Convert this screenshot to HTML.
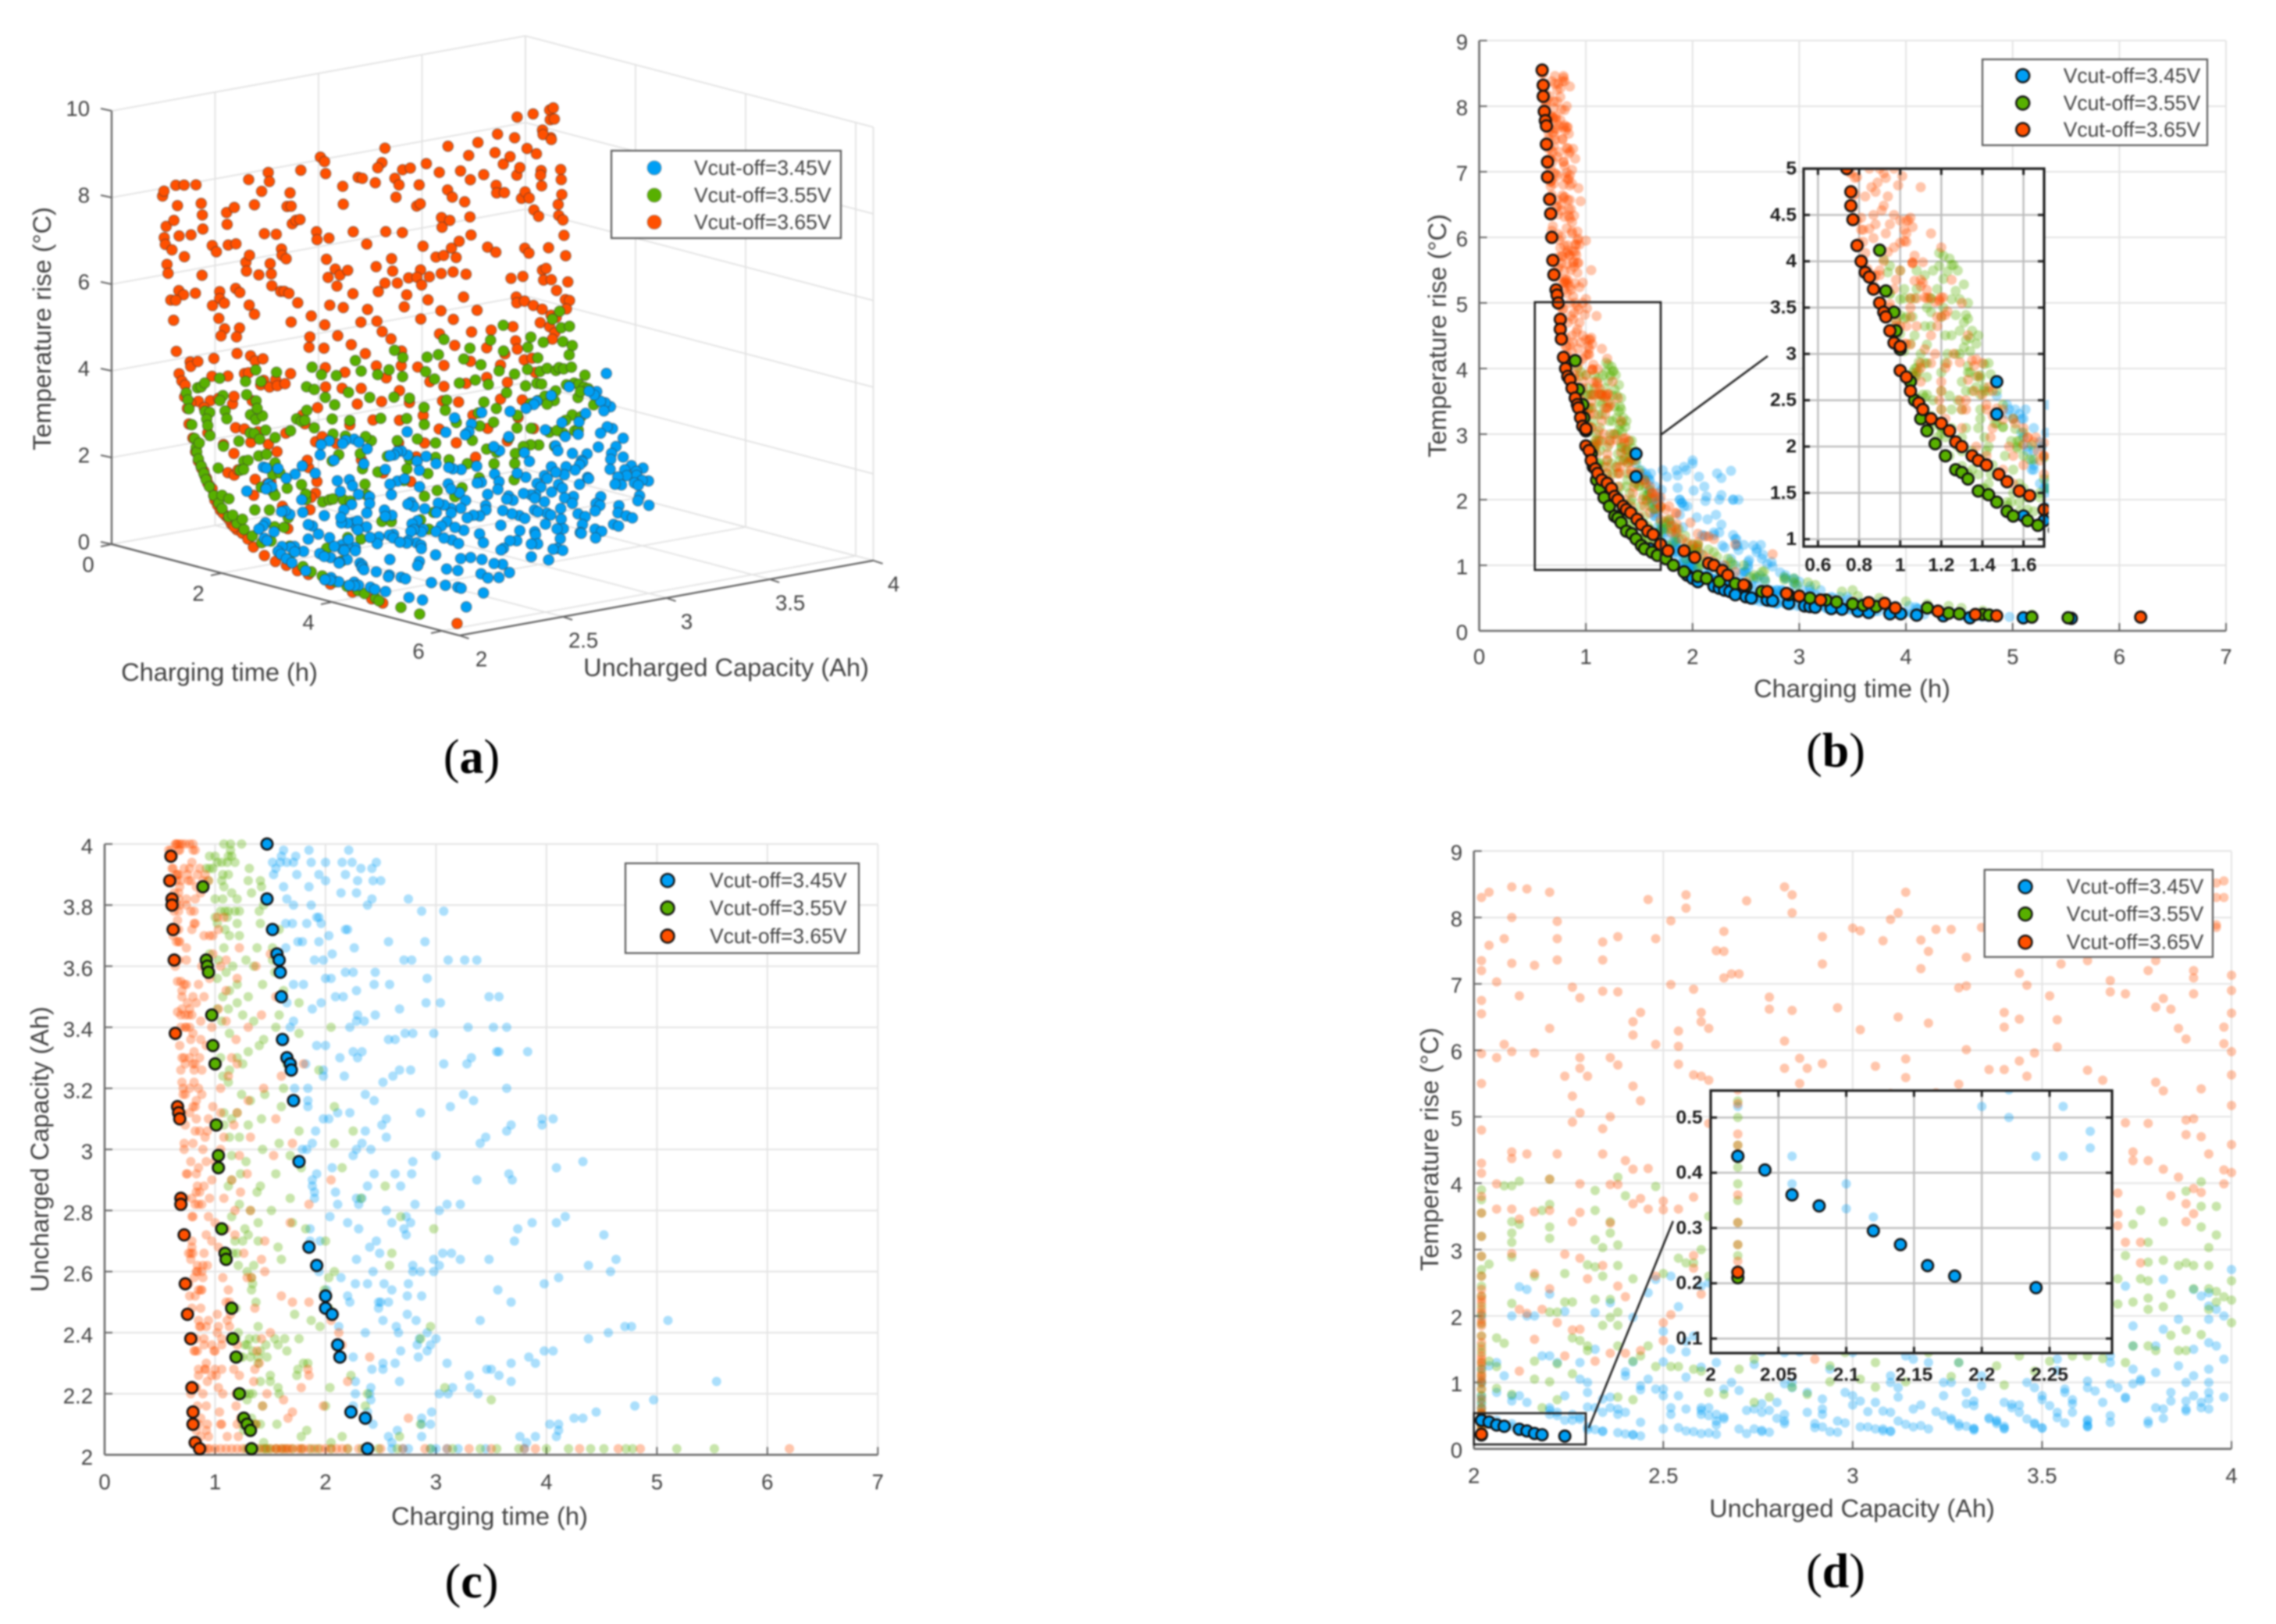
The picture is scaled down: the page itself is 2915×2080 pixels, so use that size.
<!DOCTYPE html>
<html lang="en">
<head>
<meta charset="utf-8">
<title>Charging optimisation scatter charts</title>
<style>
html,body{margin:0;padding:0;background:#fff;}
#figure{position:absolute;left:0;top:0;width:2915px;height:2080px;filter:blur(1px);}
text{font-family:"Liberation Sans",sans-serif;fill:#424242;}
.tick{font-size:27.5px;}
.title{font-size:32.6px;text-anchor:middle;}
.legend{font-size:26.5px;}
.inset-tick{font-size:24.5px;font-weight:bold;fill:#1c1c1c;}
.caption{font-family:"Liberation Serif",serif;font-size:62px;text-anchor:middle;fill:#000;}
</style>
</head>
<body>
<svg id="figure" xmlns="http://www.w3.org/2000/svg" width="2915" height="2080" viewBox="0 0 2915 2080">
<defs>
<clipPath id="clip-b-inset"><rect x="2310" y="216" width="314" height="484"/></clipPath>
<clipPath id="clip-d-inset"><rect x="2191" y="1397" width="514" height="336"/></clipPath>
</defs>
<rect width="2915" height="2080" fill="#fff"/>
<g id="panel-a"></g>
<g id="panel-b"></g>
<g id="panel-c"></g>
<g id="panel-d"></g>
<g>
<text class="title" x="281" y="872">Charging time (h)</text>
<text class="title" x="930" y="866">Uncharged Capacity (Ah)</text>
<text class="title" transform="translate(65,421) rotate(-90)">Temperature rise (°C)</text>
<text class="title" x="2372" y="893">Charging time (h)</text>
<text class="title" transform="translate(1852,430) rotate(-90)">Temperature rise (°C)</text>
<text class="title" x="627" y="1953">Charging time (h)</text>
<text class="title" transform="translate(62,1472) rotate(-90)">Uncharged Capacity (Ah)</text>
<text class="title" x="2372" y="1943">Uncharged Capacity (Ah)</text>
<text class="title" transform="translate(1842,1472) rotate(-90)">Temperature rise (°C)</text>
</g>
<g>
<text class="caption" x="604" y="990">(<tspan font-weight="bold" style="fill:#000">a</tspan>)</text>
<text class="caption" x="2351" y="982">(<tspan font-weight="bold" style="fill:#000">b</tspan>)</text>
<text class="caption" x="604" y="2046">(<tspan font-weight="bold" style="fill:#000">c</tspan>)</text>
<text class="caption" x="2351" y="2033">(<tspan font-weight="bold" style="fill:#000">d</tspan>)</text>
</g>
</svg>
<script>
// Tick labels
const timeTicks=[0,1,2,3,4,5,6,7];
const tempTicks=[0,1,2,3,4,5,6,7,8,9];
const capTicksC=[2,2.2,2.4,2.6,2.8,3,3.2,3.4,3.6,3.8,4];
const capTicksD=[2,2.5,3,3.5,4];
const aTimeTicks=[0,2,4,6];
const aCapTicks=[2,2.5,3,3.5,4];
const aTempTicks=[0,2,4,6,8,10];
const bInsetTimeTicks=[0.6,0.8,1,1.2,1.4,1.6];
const bInsetTempTicks=[1,1.5,2,2.5,3,3.5,4,4.5,5];
const dInsetCapTicks=[2,2.05,2.1,2.15,2.2,2.25];
const dInsetTempTicks=[0.1,0.2,0.3,0.4,0.5];
const seriesLabels=["Vcut-off=3.45V","Vcut-off=3.55V","Vcut-off=3.65V"];

// Measured points: [charging time h, uncharged capacity Ah, temperature rise C]
const blueRuns=[[1.47,4,2.7],[1.62,3.98,2],[1.85,3.98,1.35],[2.21,3.98,.78],[1.6,3.96,2.1],[1.73,3.96,1.55],[1.52,3.94,2.35],[1.59,3.94,2.15],[1.65,3.94,1.95],[1.71,3.94,1.6],[1.87,3.94,1.2],[2,3.94,1],[2.15,3.94,.85],[2.24,3.94,.75],[2.46,3.94,.6],[1.55,3.92,2.3],[2.32,3.92,.7],[2.42,3.92,.62],[1.53,3.9,2.4],[1.74,3.9,1.5],[1.94,3.9,1.1],[2.18,3.9,.8],[2,3.88,1],[2.29,3.88,.72],[2.43,3.88,.6],[2.5,3.88,.57],[1.62,3.86,1.95],[1.85,3.86,1.25],[2.14,3.84,.85],[2.28,3.84,.72],[1.47,3.82,2.55],[1.65,3.82,1.8],[2.42,3.82,.6],[2.75,3.82,.46],[1.71,3.8,1.55],[1.87,3.8,1.15],[2.38,3.8,.62],[2.87,3.78,.42],[3.07,3.78,.38],[1.92,3.76,1.05],[1.94,3.76,1.02],[1.64,3.74,1.85],[1.7,3.74,1.55],[1.83,3.74,1.2],[1.96,3.74,.98],[1.52,3.72,2.45],[2.18,3.72,.78],[2.2,3.72,.76],[2.03,3.7,.92],[1.75,3.68,1.4],[1.79,3.68,1.3],[1.94,3.68,.98],[2.57,3.68,.5],[2.9,3.68,.4],[2.26,3.66,.7],[1.64,3.66,1.75],[2.06,3.64,.87],[1.56,3.64,2.4],[1.58,3.62,2.35],[1.9,3.62,1.02],[1.98,3.62,.92],[2.71,3.62,.44],[2.78,3.62,.42],[3.11,3.62,.36],[3.26,3.62,.34],[3.37,3.62,.33],[1.59,3.58,2.3],[2.18,3.58,.74],[2.25,3.58,.68],[2.45,3.58,.55],[2,3.56,.9],[2.05,3.56,.85],[2.92,3.56,.39],[1.71,3.54,1.35],[1.8,3.54,1.18],[2.44,3.54,.55],[2.58,3.54,.47],[2.28,3.52,.65],[1.6,3.5,2.3],[2.09,3.5,.8],[2.16,3.5,.74],[3.48,3.5,.32],[3.57,3.5,.31],[1.65,3.48,1.75],[1.96,3.48,.92],[2.91,3.48,.39],[3.04,3.48,.37],[1.88,3.46,1],[2.67,3.46,.45],[2.29,3.44,.66],[2.45,3.44,.55],[1.71,3.42,1.5],[2.28,3.42,.67],[2.35,3.42,.62],[1.68,3.4,1.6],[2.22,3.4,.7],[3.29,3.4,.34],[3.52,3.4,.31],[3.64,3.4,.3],[2.72,3.38,.43],[2.79,3.38,.41],[2.98,3.38,.38],[1.61,3.36,2.4],[2.57,3.36,.47],[2.63,3.36,.45],[1.92,3.34,1.1],[2,3.34,.95],[2.25,3.32,.72],[2.33,3.32,.65],[3.55,3.32,.31],[3.57,3.32,.3],[3.83,3.32,.28],[1.65,3.3,2.2],[2.13,3.3,.85],[2.29,3.3,.68],[3.32,3.3,.34],[1.68,3.28,2.05],[1.82,3.28,1.3],[3.07,3.28,.38],[3.28,3.28,.34],[1.69,3.26,2],[1.98,3.26,1],[2.67,3.26,.46],[2.77,3.26,.43],[1.98,3.24,1],[2.17,3.24,.8],[2.61,3.24,.5],[2.52,3.22,.56],[1.84,3.2,1.3],[3.64,3.2,.3],[2.36,3.18,.66],[3.25,3.18,.35],[1.71,3.16,2.15],[1.84,3.16,1.35],[2.44,3.16,.6],[3.34,3.16,.33],[1.84,3.14,1.4],[3.13,3.14,.37],[2.11,3.12,.92],[2.22,3.12,.78],[2.86,3.12,.42],[1.98,3.1,1.1],[2.03,3.1,1],[2.55,3.1,.55],[3.96,3.1,.27],[4.06,3.1,.26],[2.51,3.08,.57],[3.68,3.08,.3],[3.96,3.08,.27],[3.64,3.06,.3],[2.36,3.06,.7],[2.55,3.04,.56],[3.45,3.04,.33],[2.33,3.02,.72],[3.4,3.02,.33],[1.79,3,1.65],[1.83,3,1.45],[2.41,3,.66],[2.28,3,.8],[2.25,2.98,.85],[3,2.98,.39],[1.76,2.96,2.35],[2.79,2.96,.42],[4.33,2.96,.25],[4.09,2.94,.26],[2.06,2.94,1.2],[1.92,2.92,1.9],[2.44,2.92,.75],[2.63,2.92,.6],[2.78,2.92,.52],[3.66,2.92,.33],[1.88,2.9,2],[3.37,2.9,.38],[3.69,2.9,.32],[1.88,2.88,2],[2.38,2.88,.85],[2.68,2.88,.55],[1.9,2.86,1.95],[1.9,2.84,1.95],[2.28,2.84,1],[2.33,2.84,.92],[2.11,2.82,1.45],[2.3,2.82,.98],[2.81,2.82,.52],[3.1,2.82,.42],[3.22,2.82,.38],[2.55,2.8,.7],[3.03,2.8,.46],[2.73,2.78,.58],[4.17,2.78,.25],[2.6,2.76,.68],[2.77,2.76,.55],[3.87,2.76,.28],[4.09,2.76,.26],[2.71,2.74,.6],[3.74,2.74,.3],[2.73,2.72,.58],[4.52,2.72,.23],[1.95,2.7,1.9],[2.46,2.7,.88],[3.71,2.7,.3],[1.85,2.68,2.45],[2.4,2.68,1],[2.49,2.66,.9],[3.06,2.66,.48],[3.14,2.66,.45],[2.28,2.64,1.3],[2.98,2.64,.52],[3.22,2.64,.42],[3.48,2.64,.36],[4.63,2.64,.22],[1.92,2.62,2.5],[4.38,2.62,.24],[3.03,2.62,.5],[2.79,2.62,.62],[2.79,2.6,.62],[2.86,2.6,.58],[2.98,2.6,.52],[4.58,2.6,.23],[2.14,2.58,1.7],[4.11,2.58,.26],[2.75,2.56,.6],[3.98,2.56,.27],[2.6,2.54,.8],[3.56,2.54,.32],[2,2.52,2.6],[2.2,2.52,1.5],[2.87,2.52,.52],[2.74,2.52,.62],[2.5,2.5,.9],[2.57,2.5,.8],[3.68,2.5,.3],[2,2.48,2.55],[2.48,2.48,.9],[2.06,2.46,2.35],[2.52,2.44,.95],[3.4,2.44,.4],[5.1,2.44,.195],[4.71,2.42,.215],[4.77,2.42,.21],[2.36,2.4,1.1],[2.92,2.4,.55],[4.56,2.4,.225],[2.85,2.38,.6],[3,2.38,.52],[4.38,2.38,.245],[2.11,2.36,2.2],[2.83,2.36,.62],[2.68,2.34,.75],[2.92,2.34,.55],[3.98,2.34,.27],[4.06,2.34,.26],[2.13,2.32,2.05],[2.25,2.32,1.5],[2.84,2.32,.62],[3.84,2.32,.29],[2.52,2.3,1],[2.63,2.3,.85],[3.68,2.3,.33],[3.9,2.3,.29],[2.42,2.28,1.3],[2.52,2.28,1.05],[3.46,2.28,.475],[3.5,2.28,.445],[3.3,2.26,.52],[3.57,2.26,.43],[2.67,2.24,.8],[3.68,2.24,.43],[5.54,2.24,.192],[2.41,2.22,1.3],[3.15,2.22,.55],[3.31,2.22,.5],[2.4,2.2,1.4],[3.03,2.2,.62],[3.11,2.2,.58],[3.38,2.2,.52],[2.41,2.18,1.4],[4.97,2.18,.213],[4.8,2.16,.232],[2.25,2.16,2],[2.23,2.14,2.4],[2.96,2.14,.7],[4.45,2.14,.27],[2.36,2.12,2.44],[2.87,2.12,.8],[4.25,2.12,.32],[4.33,2.12,.295],[2.87,2.1,.8],[2.95,2.1,.72],[4.03,2.1,.38],[4.11,2.1,.335],[2.65,2.08,1.1],[4.11,2.08,.34],[2.57,2.06,1.3],[2.87,2.06,.85],[3.76,2.06,.43],[3.9,2.06,.38],[4.09,2.06,.36],[2.6,2.04,1.25],[3.82,2.04,.405],[2.38,2.02,2],[2.6,2.02,1.2],[2.7,2.02,1.02],[2.75,2.02,.98],[2.95,2.02,.8],[3,2.02,.75],[3.1,2.02,.68],[3.2,2.02,.62],[3.45,2.02,.52],[3.8,2.02,.43],[1.72,3.2,2.45],[1.86,2.7,2.37],[1.94,2.6,2.45],[1.86,2.74,2.18],[2.01,2.54,2.14],[2.12,2.42,1.98],[2.27,2.2,2.33],[2.27,2.24,2.07],[2.38,2.14,2],[2.43,2.1,2],[2.22,2.5,1.77],[2.27,2.56,1.62],[2.04,2.78,1.73],[1.88,3.02,1.77],[1.91,3.06,1.58],[2.09,2.86,1.46],[2.2,2.76,1.46],[2.38,2.56,1.46],[2.48,2.5,1.31],[2.64,2.42,1.31],[2.66,2.4,1.16],[2.43,2.6,1.23],[2.53,2.56,1.08],[2.3,2.74,1.27],[2.74,2.46,1.05],[2.82,2.44,.89],[2.95,2.36,.78],[3.1,2.3,.63]];

const greenRuns=[[1.28,2.02,3.9],[1.31,2.02,3.75],[1.33,2.02,3.55],[1.38,2.02,3.2],[1.43,2.02,2.9],[1.46,2.02,2.7],[1.47,2.02,2.6],[1.5,2.02,2.45],[1.55,2.02,2.3],[1.6,2.02,2.15],[1.64,2.02,2.02],[1.7,2.02,1.88],[1.78,2.02,1.7],[1.87,2.02,1.55],[1.93,2.02,1.45],[2.05,2.02,1.3],[2.2,2.02,1.2],[2.33,2.02,1.1],[2.48,2.02,1],[2.65,2.02,.9],[2.95,2.02,.8],[3.15,2.02,.7],[3.4,2.02,.6],[3.55,2.02,.53],[3.75,2.02,.5],[4,2.02,.45],[4.2,2.02,.41],[4.4,2.02,.38],[4.52,2.02,.35],[4.72,2.02,.31],[4.78,2.02,.27],[5.18,2.02,.25],[5.52,2.02,.21],[1.26,2.08,3.96],[1.25,2.1,3.96],[1.24,2.12,4.03],[1.21,2.2,4.06],[1.27,2.2,3.68],[1.29,2.18,3.59],[1.31,2.2,3.34],[1.34,2.2,3.17],[1.44,2.04,2.78],[1.32,2.1,3.42],[1.33,2.12,3.38],[1.35,2.1,3.25],[1.37,2.1,3.11],[1.41,2.1,2.89],[1.23,2.32,3.89],[1.25,2.32,3.59],[1.19,2.38,4.09],[1.21,2.4,3.81],[1.27,2.36,3.42],[1.32,2.32,3.15],[1.34,2.34,3.03],[1.31,2.38,3.07],[1.29,2.36,3.25],[1.39,2.3,2.77],[1.39,2.32,2.74],[1.41,2.34,2.6],[1.37,2.38,2.76],[1.19,2.48,3.95],[1.21,2.62,3.5],[1.33,2.54,2.87],[1.34,2.56,2.8],[1.37,2.5,2.64],[1.33,2.58,2.8],[1.41,2.24,2.64],[1.43,2.16,2.6],[1.56,2.1,2.19],[1.5,2.24,2.21],[1.58,2.2,2.06],[1.5,2.26,2.21],[1.57,2.22,2.06],[1.47,2.32,2.25],[1.46,2.36,2.25],[1.39,2.42,2.56],[1.57,2.36,1.98],[1.54,2.38,2.06],[1.65,2.34,1.86],[1.63,2.38,1.86],[1.78,2.06,1.67],[1.83,2.08,1.59],[2.05,2.04,1.32],[2.15,2.06,1.24],[2,2.16,1.32],[2.04,2.22,1.28],[2.36,2.16,1.05],[2.67,2.06,.91],[2.86,2.1,.82],[3.5,2.18,.62],[3.08,2.22,.74],[2.38,2.2,1.01],[2.23,2.26,1.13],[1.8,2.3,1.55],[1.74,2.26,1.67],[1.75,2.28,1.63],[1.84,2.3,1.48],[1.76,2.38,1.55],[1.95,2.42,1.32],[1.87,2.44,1.4],[1.72,2.46,1.55],[2.03,2.48,1.24],[2,2.52,1.24],[1.99,2.54,1.24],[2.03,2.58,1.2],[2.08,2.6,1.17],[2.86,2.38,.78],[2.95,2.42,.74],[2.58,2.62,.85],[2.6,2.66,.82],[2,2.7,1.2],[2.98,2.74,.7],[2.68,2.78,.78],[2.32,2.84,.93],[2.54,2.88,.82],[2.15,2.94,1.01],[2.08,3.02,1.05],[2.25,3.06,.93],[2.08,3.14,1.01],[1.94,3.26,1.09],[1.22,3.7,2.18],[1.2,3.74,2.21],[1.13,3.7,2.56],[1.09,3.72,2.91],[1.02,3.74,3.38],[1,3.76,3.59],[1.05,3.78,3.11],[1.09,3.78,2.81],[1.11,3.76,2.56],[1.12,3.78,2.53],[1.18,3.78,2.27],[1,3.82,3.42],[1.07,3.82,2.84],[1.08,3.86,2.76],[1.06,3.88,2.8],[1.15,3.84,2.33],[1.2,3.82,2.14],[1.22,3.78,2.1],[.94,3.88,3.88],[.92,3.92,4.02],[.95,3.92,3.65],[.95,3.96,3.65],[.98,3.92,3.34],[1,3.96,3.22],[1.02,3.94,3.03],[1.07,3.9,2.76],[1.06,3.94,2.76],[1.12,3.9,2.41],[1.11,3.94,2.41],[1.12,3.96,2.37],[1.14,3.98,2.29],[1.08,4,2.53],[1.14,4,2.24],[1.24,4,1.9],[1.18,3.94,2.1],[1.15,3.96,2.21],[1.3,3.88,1.79],[1.33,3.84,1.71],[1.44,3.8,1.48],[1.42,3.86,1.48],[1.31,3.92,1.72],[1.41,3.88,1.48],[1.41,3.74,1.55],[1.4,3.78,1.55],[1.58,3.72,1.3],[1.52,3.66,1.36],[1.52,3.62,1.4],[1.54,3.58,1.4],[1.62,3.52,1.32],[1.58,3.44,1.4],[1.76,3.48,1.17],[2.05,3.4,.96],[1.16,2.66,3.9],[1.25,2.7,3.2],[1.3,2.72,2.7],[1.39,2.76,2.3],[1.51,2.8,1.9],[1.68,2.84,1.5],[1.15,2.9,3.6],[1.23,2.92,3],[1.28,2.96,2.5],[1.43,3,2],[1.58,3.02,1.6],[1.76,3.06,1.3],[1.08,3.08,3.9],[1.15,3.1,3.3],[1.2,3.12,2.8],[1.32,3.16,2.2],[1.45,3.18,1.8],[1.62,3.2,1.45],[1.07,3.24,3.6],[1.13,3.26,3.1],[1.2,3.3,2.6],[1.3,3.32,2.1],[1.44,3.36,1.7],[1.76,3.38,1.25],[1.06,3.42,3.4],[1.12,3.46,2.9],[1.2,3.48,2.4],[1.3,3.5,1.95],[1.43,3.54,1.6],[1.02,3.56,3.7],[1.1,3.58,3],[1.16,3.6,2.5],[1.28,3.62,2],[1.38,3.66,1.7],[.95,3.64,3.95],[1.57,2.68,2],[1.82,2.74,1.35],[1.41,2.88,2.1],[1.78,2.94,1.25],[1.13,3.04,3.5],[1.6,3.14,1.55],[1.65,3.28,1.3],[1,3.34,3.9],[1.25,3.44,2.2],[1.13,3.52,2.75],[1.15,2.78,3.6],[1.35,2.62,2.6],[1.6,2.64,1.9],[1.29,2.6,3],[1.18,2.7,3.7],[1.27,2.74,3],[1.32,2.8,2.6],[1.38,2.86,2.2],[1.55,2.92,1.75],[1.68,2.98,1.45],[1.22,3.04,2.9],[1.3,3.08,2.4],[1.42,3.1,1.95],[1.12,3.22,3.3],[1.25,3.28,2.4],[1.4,3.34,1.85],[1.55,3.4,1.5],[1.02,3.46,3.6],[1.07,3.5,3.2],[1.2,3.54,2.2],[1.35,3.6,1.75],[1.03,3.62,3.4],[1.08,3.66,2.85],[1.2,2.66,3.4],[1.39,2.7,2.4],[1.7,2.76,1.65],[1.22,2.82,3.2],[1.12,2.88,3.85],[1.15,2.98,3.45],[1.08,3.12,3.7],[1.24,3.18,2.55],[1.05,3.3,3.6],[1.13,3.38,2.9],[1.35,3.42,1.95]];

const orangeRuns=[[.85,2.02,8.3],[.88,2.02,7.35],[.9,2.02,7.2],[.93,2.02,6.75],[.95,2.02,6.55],[1,2.02,5.95],[1.05,2.02,5.5],[1.1,2.02,4.8],[1.15,2.02,4.3],[1.2,2.02,4.15],[1.25,2.02,3.8],[1.3,2.02,3.55],[1.33,2.02,3.2],[1.4,2.02,2.9],[1.45,2.02,2.6],[1.5,2.02,2.4],[1.55,2.02,2.3],[1.6,2.02,2.2],[1.65,2.02,2.05],[1.7,2.02,1.9],[1.75,2.02,1.85],[1.8,2.02,1.6],[1.85,2.02,1.5],[1.9,2.02,1.4],[2,2.02,1.3],[2.1,2.02,1.15],[2.2,2.02,1.05],[2.3,2.02,1],[2.4,2.02,.9],[2.5,2.02,.75],[2.7,2.02,.62],[2.9,2.02,.55],[3.1,2.02,.525],[3.3,2.02,.47],[3.5,2.02,.45],[3.8,2.02,.43],[3.9,2.02,.36],[4.3,2.02,.31],[4.65,2.02,.27],[4.85,2.02,.24],[6.2,2.02,.22],[1.56,2.02,2.25],[1.62,2.02,2.1],[1.67,2.02,1.95],[1.78,2.02,1.7],[1.95,2.02,1.35],[2.05,2.02,1.25],[2.15,2.02,1.1],[.8,2.04,8.38],[.79,2.1,8.46],[.79,2.14,8.43],[.78,2.2,8.38],[.76,2.46,8.27],[.74,2.56,8.34],[.76,2.56,8.14],[.73,2.72,8.25],[.71,2.82,8.46],[.71,2.84,8.34],[.73,2.84,8.07],[.68,3.14,8.38],[.7,3.12,8.07],[.7,3.1,7.97],[.72,3,7.84],[.72,3.02,7.8],[.7,3.22,7.82],[.69,3.26,7.82],[.71,3.18,7.66],[.73,3.08,7.65],[.71,3.2,7.49],[.7,3.3,7.4],[.59,3.96,8.52],[.6,3.96,8.3],[.61,3.96,7.89],[.6,3.8,8.5],[.59,3.88,8.5],[.58,3.98,8.55],[.6,3.98,8.3],[.61,3.92,8.1],[.62,3.92,8],[.62,3.96,7.85],[.63,3.78,8.05],[.65,3.68,7.8],[.66,3.55,7.85],[.65,3.88,7.6],[.66,3.9,7.2],[.67,3.9,6.85],[.67,3.78,7.2],[.69,3.55,7.3],[.69,3.4,7.6],[.68,3.34,7.85],[.7,3.5,7.55],[.65,3.72,7.5],[.63,3.84,7.75],[.62,3.7,8.2],[.64,3.6,8.1],[.66,3.45,8.15],[.67,3.62,7.35],[.65,3.8,7.35],[.66,3.75,7.65],[.82,2.1,8],[.8,2.22,7.94],[.84,2.04,7.58],[.83,2.08,7.68],[.82,2.22,7.68],[.81,2.34,7.63],[.8,2.38,7.71],[.79,2.48,7.68],[.77,2.52,7.95],[.76,2.66,7.79],[.78,2.64,7.5],[.78,2.66,7.49],[.74,2.92,7.71],[.75,2.92,7.3],[.84,2.16,7.28],[.85,2.1,7.31],[.83,2.22,7.36],[.82,2.34,7.36],[.87,2.06,7.03],[.87,2.12,6.82],[.85,2.26,6.95],[.85,2.28,6.79],[.84,2.34,6.89],[.83,2.38,6.88],[.82,2.52,6.99],[.81,2.58,6.92],[.8,2.66,7.09],[.79,2.68,7.15],[.79,2.7,7.15],[.79,2.78,6.8],[.8,2.78,6.62],[.79,2.84,6.6],[.78,2.96,6.64],[.73,3.18,7.23],[.73,3.28,6.94],[.72,3.3,6.97],[.69,3.44,7.16],[.7,3.46,6.98],[.7,3.52,6.82],[.67,3.68,7.05],[.68,3.68,6.88],[.67,3.72,6.85],[.68,3.8,6.65],[.67,3.82,6.78],[.67,3.84,6.62],[.68,3.86,6.33],[.69,3.88,6.17],[.65,3.9,7.09],[.64,4,7.13],[.65,4,6.9],[.66,4,6.56],[.67,3.98,6.35],[.68,3.98,6.1],[.68,4,5.98],[.7,4,5.63],[.72,3.92,5.42],[.73,4,5.17],[.89,2.2,6.33],[.92,2.08,6.09],[.93,2.1,5.98],[.94,2.06,5.89],[.92,2.16,5.96],[.91,2.28,5.89],[.9,2.36,5.89],[.9,2.38,5.78],[.91,2.28,5.73],[.92,2.3,5.61],[.93,2.24,5.61],[.86,2.42,6.43],[.85,2.44,6.57],[.87,2.42,6.23],[.87,2.48,6.09],[.85,2.54,6.29],[.87,2.54,6.06],[.88,2.54,5.79],[.83,2.6,6.57],[.84,2.6,6.43],[.84,2.62,6.33],[.89,2.58,5.63],[.88,2.6,5.61],[.89,2.62,5.55],[.92,2.42,5.46],[.94,2.44,5.24],[.97,2.26,5.31],[1,2.28,5.06],[1.01,2.26,4.92],[.97,2.36,5],[.99,2.34,4.82],[.82,2.82,6.14],[.85,2.82,5.73],[.83,2.86,5.88],[.84,2.88,5.73],[.86,2.86,5.5],[.83,2.92,5.8],[.8,3.02,6.31],[.82,3.06,5.76],[.77,3.12,6.5],[.8,3.14,5.87],[.82,3.14,5.59],[.77,3.2,6.41],[.77,3.3,6.01],[.8,3.28,5.49],[.78,3.36,5.71],[.77,3.4,5.71],[.73,3.4,6.57],[.74,3.4,6.35],[.73,3.44,6.47],[.76,3.44,5.84],[.77,3.46,5.61],[.75,3.48,5.96],[.72,3.54,6.46],[.74,3.54,6.05],[.74,3.62,5.7],[.74,3.66,5.55],[.79,3.72,4.91],[.78,3.78,4.9],[.74,3.8,5.52],[.74,3.82,5.39],[.76,3.88,4.95],[.75,3.9,4.97],[.78,3.88,4.73],[.77,3.92,4.7],[.79,3.94,4.44],[.77,4,4.58],[.8,3.98,4.2],[.8,4,4.16],[.82,3.98,3.99],[1.11,2.06,3.99],[1.05,2.1,4.47],[1.06,2.1,4.37],[1.04,2.14,4.44],[1.03,2.22,4.44],[1.07,2.2,4.06],[1.06,2.28,3.99],[1,2.34,4.44],[1.06,2.36,3.98],[1.06,2.38,3.98],[1.02,2.4,4.34],[1.03,2.42,4.21],[1.02,2.46,4.22],[1.11,2.44,3.77],[1.13,2.42,3.69],[1.14,2.46,3.61],[1.1,2.5,3.73],[1.13,2.5,3.6],[1.12,2.54,3.61],[1.07,2.58,3.79],[1.2,2.36,3.4],[1.22,2.26,3.42],[1.17,2.28,3.56],[1.19,2.16,3.57],[1.2,2.1,3.61],[1.19,2.2,3.59],[1.21,2.06,3.61],[1.23,2.12,3.46],[1.37,2.1,2.94],[1.43,2.16,2.64],[1.35,2.24,2.93],[1.36,2.28,2.87],[1.47,2.2,2.41],[1.78,2.22,1.9],[1.66,2.12,2.1],[1.7,2.14,2.04],[1.38,2.34,2.76],[1.4,2.3,2.56],[1.42,2.38,2.45],[1.5,2.4,2.29],[1.36,2.48,2.6],[1.85,2.5,1.63],[2.05,2.44,1.48],[1.7,2.5,1.9],[1.6,2.52,2.02],[1.29,2.58,2.91],[1.33,2.58,2.72],[1.45,2.6,2.33],[2.2,2.24,1.4],[1.62,2.18,2.1],[1.98,2.16,1.65],[2.75,2.12,1.17],[1.85,2.26,1.79],[1.84,2.28,1.8],[2.4,2.32,1.32],[2.15,2.36,1.44],[2.12,2.4,1.44],[.95,3.7,3.54],[.98,3.7,3.36],[1.03,3.72,3.11],[1.02,3.76,3.11],[1.08,3.76,2.8],[.9,3.7,3.85],[.81,3.74,4.47],[.82,3.74,4.34],[.81,3.78,4.34],[.82,3.82,4.21],[.87,3.84,3.81],[.83,3.86,4.09],[.89,3.88,3.69],[.84,3.9,3.92],[.91,3.9,3.54],[.94,3.88,3.42],[.86,3.92,3.86],[.9,2.66,5.3],[.92,2.72,4.95],[.94,2.78,4.7],[.95,2.84,4.4],[.97,2.9,4.15],[1,2.96,3.9],[1.05,3,3.6],[1.08,3.04,3.3],[1.17,3.08,3],[1.2,3.12,2.7],[1.3,3.16,2.4],[1.44,3.2,2.1],[1.6,3.24,1.8],[1.8,3.28,1.5],[1.03,2.68,4.3],[1.1,2.74,3.8],[1.18,2.8,3.3],[1.23,2.86,2.9],[1.29,2.92,2.5],[1.53,2.98,2],[1.7,3.02,1.7],[.86,3.06,5.2],[.83,3.1,5.35],[.83,3.16,5.3],[.81,3.22,5.36],[.81,3.26,5.34],[.81,3.32,5.3],[.8,3.38,5.32],[.79,3.44,5.3],[.8,3.5,5.2],[.88,3.18,4.75],[.88,3.26,4.4],[.92,3.34,4],[.97,3.4,3.7],[1.03,3.46,3.3],[1.1,3.52,2.9],[1.2,3.56,2.4],[1.37,3.6,2],[1.5,3.64,1.75],[.86,3.3,4.8],[.87,3.36,4.5],[.87,3.42,4.25],[.9,3.5,3.9],[.95,3.56,3.5],[1.05,3.6,3.1],[1.1,3.62,2.7],[1.22,3.66,2.3],[1.15,3.3,2.9],[1.19,3.36,2.5],[1.3,3.4,2.2],[1.42,3.44,1.9],[1.55,3.5,1.6],[1.45,2.7,2.2],[1.68,2.76,1.85],[1.85,2.82,1.55],[2.05,2.9,1.35],[1.05,3.12,3.5],[.93,3.06,4.3],[.92,2.96,4.6],[.9,2.88,5],[.93,2.62,4.9],[.97,2.7,4.5],[1,2.76,4.2],[.88,2.82,5.1],[.85,2.94,5.25],[.89,3,4.85],[.91,3.04,4.55],[.94,3.1,4.1],[.98,3.14,3.8],[1.05,3.2,3.4],[1.12,3.24,3.05],[1.2,3.28,2.6],[1.08,2.84,3.6],[1.15,2.9,3.2],[1.22,2.98,2.85],[1.32,3.04,2.4],[1.55,3.1,1.9],[1,3.34,3.3],[1.1,3.42,2.85],[.83,3.48,4.7],[.85,3.54,4.35],[.88,3.6,3.85],[.98,3.64,3.3],[.82,3.28,5.15],[.85,3.2,5],[1.18,2.72,3.4],[1.26,2.66,3],[1.42,2.64,2.4],[1.32,2.8,2.5]];

// Highlighted trade-off fronts in panel b: [charging time, temperature rise]
const bFrontBlue=[[1.47,2.7],[1.47,2.35],[1.6,1.25],[1.7,1.2],[1.95,.85],[2,.8],[2.05,.75],[2.2,.68],[2.25,.65],[2.3,.62],[2.35,.6],[2.4,.55],[2.5,.52],[2.55,.5],[2.7,.47],[2.75,.46],[2.9,.42],[3.05,.38],[3.1,.37],[3.15,.36],[3.3,.34],[3.4,.33],[3.55,.3],[3.65,.28],[3.85,.26],[3.95,.26],[4.1,.24],[4.35,.23],[4.6,.2],[5.1,.2],[5.55,.19]];
const bFrontGreen=[[.9,4.12],[.93,3.68],[.97,3.45],[.98,3.25],[1,3.05],[1.05,2.7],[1.07,2.5],[1.1,2.3],[1.13,2.17],[1.17,2.03],[1.22,1.9],[1.27,1.75],[1.3,1.72],[1.33,1.65],[1.38,1.52],[1.43,1.48],[1.47,1.4],[1.52,1.3],[1.55,1.25],[1.62,1.2],[1.67,1.15],[1.75,1.1],[1.82,1],[1.92,.9],[2.05,.83],[2.13,.8],[2.25,.75],[2.4,.72],[2.5,.68],[2.65,.6],[2.9,.55],[3.1,.5],[3.25,.47],[3.35,.44],[3.5,.41],[3.6,.39],[3.72,.37],[4.2,.35],[4.4,.27],[4.5,.26],[4.72,.25],[4.78,.24],[5.18,.21],[5.52,.2]];
const bFrontOrange=[[.59,8.55],[.6,8.32],[.6,8.15],[.61,7.92],[.62,7.78],[.63,7.7],[.63,7.42],[.64,7.15],[.64,6.92],[.66,6.58],[.67,6.36],[.68,6],[.69,5.65],[.7,5.43],[.72,5.2],[.73,5.12],[.74,5],[.76,4.75],[.76,4.6],[.77,4.45],[.79,4.17],[.81,4],[.83,3.88],[.85,3.83],[.87,3.7],[.9,3.55],[.92,3.45],[.93,3.4],[.95,3.25],[.97,3.12],[1,3.08],[1,2.82],[1.03,2.75],[1.05,2.6],[1.09,2.47],[1.11,2.4],[1.15,2.3],[1.2,2.25],[1.24,2.17],[1.27,2.05],[1.3,2],[1.35,1.9],[1.38,1.85],[1.42,1.8],[1.48,1.7],[1.52,1.62],[1.58,1.52],[1.63,1.47],[1.7,1.32],[1.77,1.22],[1.92,1.22],[2.02,1.12],[2.15,1.03],[2.2,1],[2.28,.92],[2.33,.85],[2.48,.7],[2.7,.6],[2.88,.57],[3,.53],[3.2,.47],[3.65,.43],[3.8,.42],[3.9,.35],[4.3,.3],[4.65,.25],[4.85,.23],[6.2,.21]];

// Highlighted fronts in panel c: [charging time, uncharged capacity]
const cFrontBlue=[[1.47,4],[1.47,3.82],[1.52,3.72],[1.56,3.64],[1.58,3.62],[1.59,3.58],[1.6,3.5],[1.61,3.36],[1.65,3.3],[1.68,3.28],[1.69,3.26],[1.71,3.16],[1.76,2.96],[1.85,2.68],[1.92,2.62],[2,2.52],[2,2.48],[2.06,2.46],[2.11,2.36],[2.13,2.32],[2.23,2.14],[2.36,2.12],[2.38,2.02]];
const cFrontGreen=[[.89,3.86],[.92,3.62],[.93,3.6],[.94,3.58],[.97,3.44],[.98,3.34],[1,3.28],[1.01,3.08],[1.03,2.98],[1.03,2.94],[1.06,2.74],[1.09,2.66],[1.1,2.64],[1.15,2.48],[1.16,2.38],[1.19,2.32],[1.22,2.2],[1.26,2.12],[1.29,2.1],[1.32,2.08],[1.33,2.02]];
const cFrontOrange=[[.6,3.96],[.59,3.88],[.61,3.82],[.61,3.8],[.62,3.72],[.63,3.62],[.64,3.38],[.66,3.14],[.67,3.12],[.68,3.1],[.69,2.84],[.69,2.82],[.72,2.72],[.73,2.56],[.75,2.46],[.78,2.38],[.79,2.22],[.8,2.14],[.8,2.1],[.82,2.04],[.86,2.02]];

// Highlighted fronts in panel d: [uncharged capacity, temperature rise]
const dFrontBlue=[[2.02,.43],[2.04,.405],[2.06,.36],[2.08,.34],[2.12,.295],[2.14,.27],[2.16,.232],[2.18,.213],[2.24,.192]];
const dFrontGreen=[[2.02,.21]];
const dFrontOrange=[[2.02,.22],[2.02,.43]];

const COLORS={blue:"#009ff5",green:"#58b000",orange:"#ff5000"};
const NS="http://www.w3.org/2000/svg";
const BOLD_R=7.2, FADED_R=6.5;

function linearScale(d0,d1,r0,r1){return function(v){return r0+(v-d0)*(r1-r0)/(d1-d0);};}
function svgNode(parent,tag,attrs,text){
  const n=document.createElementNS(NS,tag);
  for(const k in attrs){n.setAttribute(k,attrs[k]);}
  if(text!==undefined){n.textContent=text;}
  parent.appendChild(n);
  return n;
}
function drawLine(parent,x1,y1,x2,y2,stroke,width,name){
  const ln=svgNode(parent,"line",{x1:x1,y1:y1,x2:x2,y2:y2,stroke:stroke,"stroke-width":width});
  
  
  return ln;
}
function drawLabel(parent,x,y,str,anchor,cls,name){
  const t=svgNode(parent,"text",{x:x,y:y,"text-anchor":anchor,"dominant-baseline":"central","class":cls},str);
  
  
  return t;
}
function drawFaded(parent,rows,xOf,yOf,color,radius,name){
  rows.forEach(function(r){
    const dot=svgNode(parent,"circle",{cx:xOf(r),cy:yOf(r),r:radius,fill:color,"fill-opacity":0.33});
    
    
  });
}
function drawBold(parent,rows,xOf,yOf,color,radius,name){
  rows.forEach(function(r){
    const dot=svgNode(parent,"circle",{cx:xOf(r),cy:yOf(r),r:radius,fill:color,stroke:"#111","stroke-width":2.6});
    
    
  });
}
function drawLegend(parent,box,markerX,markerYs,textX,boldMarkers){
  const g=svgNode(parent,"g",{});
  
  
  const frame=svgNode(g,"rect",{x:box[0],y:box[1],width:box[2],height:box[3],fill:"#fff",stroke:"#5a5a5a","stroke-width":2.2});
  
  
  [COLORS.blue,COLORS.green,COLORS.orange].forEach(function(col,i){
    const m=svgNode(g,"circle",{cx:markerX,cy:markerYs[i],r:boldMarkers?8.5:9,fill:col,stroke:boldMarkers?"#111":"#777","stroke-width":boldMarkers?2.4:0.6});
    
    
    const tx=svgNode(g,"text",{x:textX,y:markerYs[i],"dominant-baseline":"central","class":"legend"},seriesLabels[i]);
    
    
  });
}
function drawFrame2D(parent,xs,ys,xTicks,yTicks,yLabelX,xLabelY,yLabelShift,tickLen){
  const left=xs(xTicks[0]),right=xs(xTicks[xTicks.length-1]),bottom=ys(yTicks[0]),top=ys(yTicks[yTicks.length-1]);
  xTicks.forEach(function(v){
    drawLine(parent,xs(v),top,xs(v),bottom,"#e4e4e4",2,'vertical-grid-line');
  });
  yTicks.forEach(function(v){
    drawLine(parent,left,ys(v),right,ys(v),"#e4e4e4",2,'horizontal-grid-line');
  });
  xTicks.forEach(function(v){
    drawLine(parent,xs(v),bottom,xs(v),bottom-tickLen,"#666",2,'x-tick-mark');
    drawLabel(parent,xs(v),xLabelY,String(v),"middle","tick",'x-tick-label');
  });
  yTicks.forEach(function(v){
    drawLine(parent,left,ys(v),left+tickLen,ys(v),"#666",2,'y-tick-mark');
    drawLabel(parent,yLabelX,ys(v)+yLabelShift,String(v),"end","tick",'y-tick-label');
  });
  drawLine(parent,left,top,left,bottom,"#6a6a6a",2.6,'y-axis-line');
  drawLine(parent,left,bottom,right,bottom,"#6a6a6a",2.6,'x-axis-line');
}
function drawInsetFrame(parent,xs,ys,xTicks,yTicks,box,yLabelX,xLabelY){
  const L=box[0],T=box[1],R=box[0]+box[2],B=box[1]+box[3];
  xTicks.forEach(function(v){
    drawLine(parent,xs(v),T,xs(v),B,"#bdbdbd",2.4,'inset-vertical-grid-line');
  });
  yTicks.forEach(function(v){
    drawLine(parent,L,ys(v),R,ys(v),"#bdbdbd",2.4,'inset-horizontal-grid-line');
  });
}
function drawInsetAxes(parent,xs,ys,xTicks,yTicks,box,yLabelX,xLabelY){
  const L=box[0],T=box[1],R=box[0]+box[2],B=box[1]+box[3];
  const border=svgNode(parent,"rect",{x:L,y:T,width:box[2],height:box[3],fill:"none",stroke:"#1c1c1c","stroke-width":3.2});
  
  
  xTicks.forEach(function(v){
    drawLine(parent,xs(v),T,xs(v),T+8,"#1c1c1c",3,'inset-x-tick-mark');
    drawLine(parent,xs(v),B,xs(v),B-8,"#1c1c1c",3,'inset-x-tick-mark');
    drawLabel(parent,xs(v),xLabelY,String(v),"middle","inset-tick",'inset-x-tick-label');
  });
  yTicks.forEach(function(v){
    drawLine(parent,L,ys(v),L+8,ys(v),"#1c1c1c",3,'inset-y-tick-mark');
    drawLine(parent,R,ys(v),R-8,ys(v),"#1c1c1c",3,'inset-y-tick-mark');
    drawLabel(parent,yLabelX,ys(v),String(v),"end","inset-tick",'inset-y-tick-label');
  });
}

/* ---------- Panel a: 3D orthographic projection ---------- */
(function(){
  const g=document.getElementById("panel-a");
  const timeMax=6.32,capMin=2,capMax=4,tempMax=10;
  function px(t,c){return 143+70.5*t+265*(c-2);}
  function py(t,c,T){return 697+18.5*t-48*(c-2)-55.5*T;}
  const gridCol="#e2e2e2";
  aCapTicks.forEach(function(c){
    drawLine(g,px(0,c),py(0,c,0),px(timeMax,c),py(timeMax,c,0),gridCol,1.8,'floor-grid-line');
    drawLine(g,px(0,c),py(0,c,0),px(0,c),py(0,c,tempMax),gridCol,1.8,'back-wall-grid-line');
  });
  aTimeTicks.forEach(function(t){
    drawLine(g,px(t,capMin),py(t,capMin,0),px(t,capMax),py(t,capMax,0),gridCol,1.8,'floor-grid-line');
    drawLine(g,px(t,capMax),py(t,capMax,0),px(t,capMax),py(t,capMax,tempMax),gridCol,1.8,'side-wall-grid-line');
  });
  aTempTicks.forEach(function(T){
    drawLine(g,px(0,capMin),py(0,capMin,T),px(0,capMax),py(0,capMax,T),gridCol,1.8,'back-wall-grid-line');
    drawLine(g,px(0,capMax),py(0,capMax,T),px(timeMax,capMax),py(timeMax,capMax,T),gridCol,1.8,'side-wall-grid-line');
  });
  drawLine(g,px(timeMax,capMax),py(timeMax,capMax,0),px(timeMax,capMax),py(timeMax,capMax,tempMax),gridCol,1.8,'side-wall-edge');
  drawLine(g,px(0,capMin),py(0,capMin,0),px(0,capMin),py(0,capMin,tempMax),"#6a6a6a",2.4,'z-axis-line');
  drawLine(g,px(0,capMin),py(0,capMin,0),px(timeMax,capMin),py(timeMax,capMin,0),"#5a5a5a",2.2,'time-axis-line');
  drawLine(g,px(timeMax,capMin),py(timeMax,capMin,0),px(timeMax,capMax),py(timeMax,capMax,0),"#5a5a5a",2.2,'capacity-axis-line');
  aTempTicks.forEach(function(T){
    drawLine(g,px(0,capMin),py(0,capMin,T),px(0,capMin)-14,py(0,capMin,T)-3,"#666",2,'z-tick-mark');
    drawLabel(g,115,py(0,capMin,T)-3,String(T),"end","tick",'z-tick-label');
  });
  aTimeTicks.forEach(function(t){
    drawLine(g,px(t,capMin),py(t,capMin,0),px(t,capMin)-14,py(t,capMin,0)+3,"#666",2,'time-tick-mark');
    drawLabel(g,px(t,capMin)-30,py(t,capMin,0)+26,String(t),"middle","tick",'time-tick-label');
  });
  aCapTicks.forEach(function(c){
    drawLine(g,px(timeMax,c),py(timeMax,c,0),px(timeMax,c)+12,py(timeMax,c,0)+4,"#666",2,'capacity-tick-mark');
    drawLabel(g,px(timeMax,c)+28-(c===2?0:2),py(timeMax,c,0)+30,String(c),"middle","tick",'capacity-tick-label');
  });
  function draw3D(rows,color,name){
    rows.forEach(function(r){
      const dot=svgNode(g,"circle",{cx:px(r[0],r[1]),cy:py(r[0],r[1],r[2]),r:6.8,fill:color,stroke:"#333","stroke-opacity":0.55,"stroke-width":1});
      
      
    });
  }
  draw3D(orangeRuns,COLORS.orange,'vcut-3-65');
  draw3D(greenRuns,COLORS.green,'vcut-3-55');
  draw3D(blueRuns,COLORS.blue,'vcut-3-45');
  drawLegend(g,[783,193,294,112],838,[215,250,284.5],889,false);
})();

/* ---------- Panel b ---------- */
(function(){
  const g=document.getElementById("panel-b");
  const x=linearScale(0,7,1894.5,2851),y=linearScale(0,9,808,52);
  drawFrame2D(g,x,y,timeTicks,tempTicks,1880,841,2,10);
  const tx=function(r){return x(r[0]);},ty=function(r){return y(r[2]);};
  const fx=function(r){return x(r[0]);},fy=function(r){return y(r[1]);};
  drawFaded(g,blueRuns,tx,ty,COLORS.blue,FADED_R,'vcut-3-45');
  drawFaded(g,greenRuns,tx,ty,COLORS.green,FADED_R,'vcut-3-55');
  drawFaded(g,orangeRuns,tx,ty,COLORS.orange,FADED_R,'vcut-3-65');
  drawBold(g,bFrontBlue,fx,fy,COLORS.blue,BOLD_R,'vcut-3-45');
  drawBold(g,bFrontGreen,fx,fy,COLORS.green,BOLD_R,'vcut-3-55');
  drawBold(g,bFrontOrange,fx,fy,COLORS.orange,BOLD_R,'vcut-3-65');
  const sel=svgNode(g,"rect",{x:1965.7,y:387,width:161.3,height:343,fill:"none",stroke:"#222","stroke-width":2.6});
  
  
  drawLine(g,2127,557,2264,456,"#222",2.6,'zoom-connector-line');
  drawLegend(g,[2539,76,288,110],2590.7,[97,132,166],2642.7,true);
  const inset=svgNode(g,"g",{});
  
  
  const bg=svgNode(inset,"rect",{x:2310,y:216,width:308,height:484,fill:"#fff"});
  
  
  const ix=linearScale(0.6,1.6,2328.4,2591.6),iy=linearScale(1,5,690.6,216);
  const box=[2310,216,308,484];
  drawInsetFrame(inset,ix,iy,bInsetTimeTicks,bInsetTempTicks,box,2301,724);
  const clip=svgNode(inset,"g",{"clip-path":"url(#clip-b-inset)"});
  
  
  const itx=function(r){return ix(r[0]);},ity=function(r){return iy(r[2]);};
  const ifx=function(r){return ix(r[0]);},ify=function(r){return iy(r[1]);};
  drawFaded(clip,blueRuns,itx,ity,COLORS.blue,FADED_R,'vcut-3-45');
  drawFaded(clip,greenRuns,itx,ity,COLORS.green,FADED_R,'vcut-3-55');
  drawFaded(clip,orangeRuns,itx,ity,COLORS.orange,FADED_R,'vcut-3-65');
  drawBold(clip,bFrontBlue,ifx,ify,COLORS.blue,BOLD_R,'vcut-3-45');
  drawBold(clip,bFrontGreen,ifx,ify,COLORS.green,BOLD_R,'vcut-3-55');
  drawBold(clip,bFrontOrange,ifx,ify,COLORS.orange,BOLD_R,'vcut-3-65');
  drawInsetAxes(inset,ix,iy,bInsetTimeTicks,bInsetTempTicks,box,2301,724);
})();

/* ---------- Panel c ---------- */
(function(){
  const g=document.getElementById("panel-c");
  const x=linearScale(0,7,134,1124.3),y=linearScale(2,4,1863.3,1081);
  drawFrame2D(g,x,y,timeTicks,capTicksC,119,1898,3,10);
  const tx=function(r){return x(r[0]);},cy=function(r){return y(r[1]);};
  drawFaded(g,blueRuns,tx,cy,COLORS.blue,6,'vcut-3-45');
  drawFaded(g,greenRuns,tx,cy,COLORS.green,6,'vcut-3-55');
  drawFaded(g,orangeRuns,tx,cy,COLORS.orange,6,'vcut-3-65');
  drawBold(g,cFrontBlue,tx,cy,COLORS.blue,BOLD_R,'vcut-3-45');
  drawBold(g,cFrontGreen,tx,cy,COLORS.green,BOLD_R,'vcut-3-55');
  drawBold(g,cFrontOrange,tx,cy,COLORS.orange,BOLD_R,'vcut-3-65');
  drawLegend(g,[801,1105.7,299,115],855,[1127.7,1163,1199],909,true);
})();

/* ---------- Panel d ---------- */
(function(){
  const g=document.getElementById("panel-d");
  const x=linearScale(2,4,1887.7,2858),y=linearScale(0,9,1855.7,1090);
  drawFrame2D(g,x,y,capTicksD,tempTicks,1873,1890,2,10);
  const cx=function(r){return x(r[1]);},ty=function(r){return y(r[2]);};
  const fx=function(r){return x(r[0]);},fy=function(r){return y(r[1]);};
  drawFaded(g,blueRuns,cx,ty,COLORS.blue,6,'vcut-3-45');
  drawFaded(g,greenRuns,cx,ty,COLORS.green,6,'vcut-3-55');
  drawFaded(g,orangeRuns,cx,ty,COLORS.orange,6,'vcut-3-65');
  drawBold(g,dFrontGreen,fx,fy,COLORS.green,BOLD_R,'vcut-3-55');
  drawBold(g,dFrontOrange,fx,fy,COLORS.orange,BOLD_R,'vcut-3-65');
  drawBold(g,dFrontBlue,fx,fy,COLORS.blue,BOLD_R,'vcut-3-45');
  const sel=svgNode(g,"rect",{x:1887.7,y:1810,width:143.3,height:40,fill:"none",stroke:"#222","stroke-width":2.6});
  
  
  drawLine(g,2034.7,1829,2142.8,1564,"#222",2.6,'zoom-connector-line');
  drawLegend(g,[2541.7,1114,292.3,111.7],2594,[1135.7,1170.7,1206.7],2646.7,true);
  const inset=svgNode(g,"g",{});
  
  
  const bg=svgNode(inset,"rect",{x:2191,y:1396.8,width:514,height:336.2,fill:"#fff"});
  
  
  const ix=linearScale(2,2.25,2191,2625),iy=linearScale(0.1,0.5,1714.4,1431.3);
  const box=[2191,1396.8,514,336.2];
  drawInsetFrame(inset,ix,iy,dInsetCapTicks,dInsetTempTicks,box,2180.5,1761);
  const clip=svgNode(inset,"g",{"clip-path":"url(#clip-d-inset)"});
  
  
  const icx=function(r){return ix(r[1]);},ity=function(r){return iy(r[2]);};
  const ifx=function(r){return ix(r[0]);},ify=function(r){return iy(r[1]);};
  drawFaded(clip,blueRuns,icx,ity,COLORS.blue,6,'vcut-3-45');
  drawFaded(clip,greenRuns,icx,ity,COLORS.green,6,'vcut-3-55');
  drawFaded(clip,orangeRuns,icx,ity,COLORS.orange,6,'vcut-3-65');
  drawBold(clip,dFrontGreen,ifx,ify,COLORS.green,BOLD_R,'vcut-3-55');
  drawBold(clip,dFrontOrange,ifx,ify,COLORS.orange,BOLD_R,'vcut-3-65');
  drawBold(clip,dFrontBlue,ifx,ify,COLORS.blue,BOLD_R,'vcut-3-45');
  drawInsetAxes(inset,ix,iy,dInsetCapTicks,dInsetTempTicks,box,2180.5,1761);
})();
</script>
</body>
</html>
